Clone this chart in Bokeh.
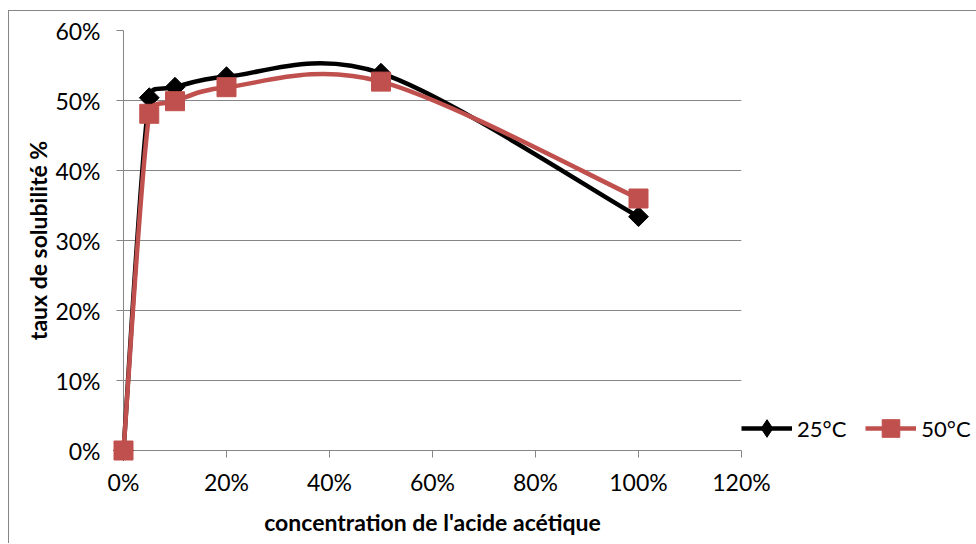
import math
from bokeh.plotting import figure
from bokeh.models import (Range1d, FixedTicker, NumeralTickFormatter, Legend, LegendItem,
                          ColumnDataSource)
from bokeh.embed import file_html
from bokeh.resources import INLINE

concentration = [0.0, 0.05, 0.10, 0.20, 0.50, 1.00]
t25 = [0.0, 0.504, 0.519, 0.534, 0.539, 0.334]
t50 = [0.0, 0.481, 0.499, 0.519, 0.527, 0.360]
series_names = ["25°C", "50°C"]
x_ticks = [0, 0.2, 0.4, 0.6, 0.8, 1.0, 1.2]
y_ticks = [0, 0.1, 0.2, 0.3, 0.4, 0.5, 0.6]

FONT = "Lato"
GRID = "#868686"
RED = "#C0504D"

FW, FH = 618, 420
LEFT, RIGHT, TOP, BOTTOM = 114, 234, 19, 93
X0, X1, Y0, Y1 = 0.0, 1.2, 0.0, 0.6
SX = FW / (X1 - X0)
SY = FH / (Y1 - Y0)


def smooth_segments(xs, ys):
    """Excel-like smoothed line: cubic Bezier control points with tension 1/6,
    limited to half of the adjacent segment length (measured in pixels)."""
    n = len(xs)

    def dist(i, j):
        return math.hypot((xs[j] - xs[i]) * SX, (ys[j] - ys[i]) * SY)

    out_c, in_c = [], []
    for i in range(n):
        im, ip = max(i - 1, 0), min(i + 1, n - 1)
        tx, ty = xs[ip] - xs[im], ys[ip] - ys[im]
        tlen = math.hypot(tx * SX, ty * SY)
        f_in = f_out = 1 / 6
        if tlen > 0:
            f_in = min(f_in, dist(im, i) / 2 / tlen)
            f_out = min(f_out, dist(i, ip) / 2 / tlen)
        in_c.append((xs[i] - tx * f_in, ys[i] - ty * f_in))
        out_c.append((xs[i] + tx * f_out, ys[i] + ty * f_out))
    d = dict(x0=[], y0=[], x1=[], y1=[], cx0=[], cy0=[], cx1=[], cy1=[])
    for i in range(n - 1):
        d["x0"].append(xs[i]); d["y0"].append(ys[i])
        d["x1"].append(xs[i + 1]); d["y1"].append(ys[i + 1])
        d["cx0"].append(out_c[i][0]); d["cy0"].append(out_c[i][1])
        d["cx1"].append(in_c[i + 1][0]); d["cy1"].append(in_c[i + 1][1])
    return ColumnDataSource(d)


p = figure(frame_width=FW, frame_height=FH, output_backend="svg", toolbar_location=None,
           x_range=Range1d(X0, X1), y_range=Range1d(Y0, Y1),
           min_border_left=LEFT, min_border_right=RIGHT, min_border_top=TOP,
           min_border_bottom=BOTTOM, margin=(10, 0, 0, 8),
           styles={"border-left": "1px solid #868686", "border-top": "1px solid #868686"})
p.outline_line_color = None
p.background_fill_color = "white"
p.border_fill_color = "white"

p.xgrid.grid_line_color = None
p.ygrid.grid_line_color = GRID
p.ygrid.grid_line_width = 1

for ax in (p.xaxis[0], p.yaxis[0]):
    ax.axis_line_color = GRID
    ax.major_tick_line_color = GRID
    ax.major_tick_in = 0
    ax.major_tick_out = 7
    ax.minor_tick_line_color = None
    ax.major_label_text_font = FONT
    ax.major_label_text_font_size = "23px"
    ax.major_label_text_color = "black"
    ax.axis_label_text_font = FONT
    ax.axis_label_text_font_style = "bold"
    ax.axis_label_text_font_size = "23px"
    ax.axis_label_text_color = "black"
    ax.formatter = NumeralTickFormatter(format="0%")

p.xaxis.ticker = FixedTicker(ticks=x_ticks)
p.yaxis.ticker = FixedTicker(ticks=y_ticks)
p.xaxis.axis_label = "concentration de l'acide acétique"
p.yaxis.axis_label = "taux de solubilité %"
p.xaxis.major_label_standoff = 10
p.yaxis.major_label_standoff = 16
p.xaxis.axis_label_standoff = 9
p.yaxis.axis_label_standoff = 0

src25 = smooth_segments(concentration, t25)
src50 = smooth_segments(concentration, t50)

p.bezier("x0", "y0", "x1", "y1", "cx0", "cy0", "cx1", "cy1", source=src25,
         line_color="black", line_width=4.5, level="overlay")
p.scatter(concentration, t25, marker="square", angle=math.pi / 4, size=14,
          color="black", level="overlay")
p.bezier("x0", "y0", "x1", "y1", "cx0", "cy0", "cx1", "cy1", source=src50,
         line_color=RED, line_width=4.5, level="overlay")
p.scatter(concentration, t50, marker="square", size=19, color=RED, level="overlay")

# legend proxies (single NaN point: nothing drawn in the plot)
nan = [float("nan")]
l25 = p.line(nan, nan, line_color="black", line_width=4.5)
k25 = p.scatter(nan, nan, marker="diamond", color="black")
l50 = p.line(nan, nan, line_color=RED, line_width=4.5)
k50 = p.scatter(nan, nan, marker="square", color=RED)

legend = Legend(items=[LegendItem(label=series_names[0], renderers=[l25, k25]),
                       LegendItem(label=series_names[1], renderers=[l50, k50])],
                orientation="horizontal", location="bottom_left",
                glyph_width=51, glyph_height=44, label_standoff=5, spacing=19,
                padding=0, margin=0, border_line_color=None, background_fill_alpha=0,
                label_text_font=FONT, label_text_font_size="22px", label_text_color="black")
p.add_layout(legend, "right")

open("out.html", "w").write(file_html(p, INLINE))
